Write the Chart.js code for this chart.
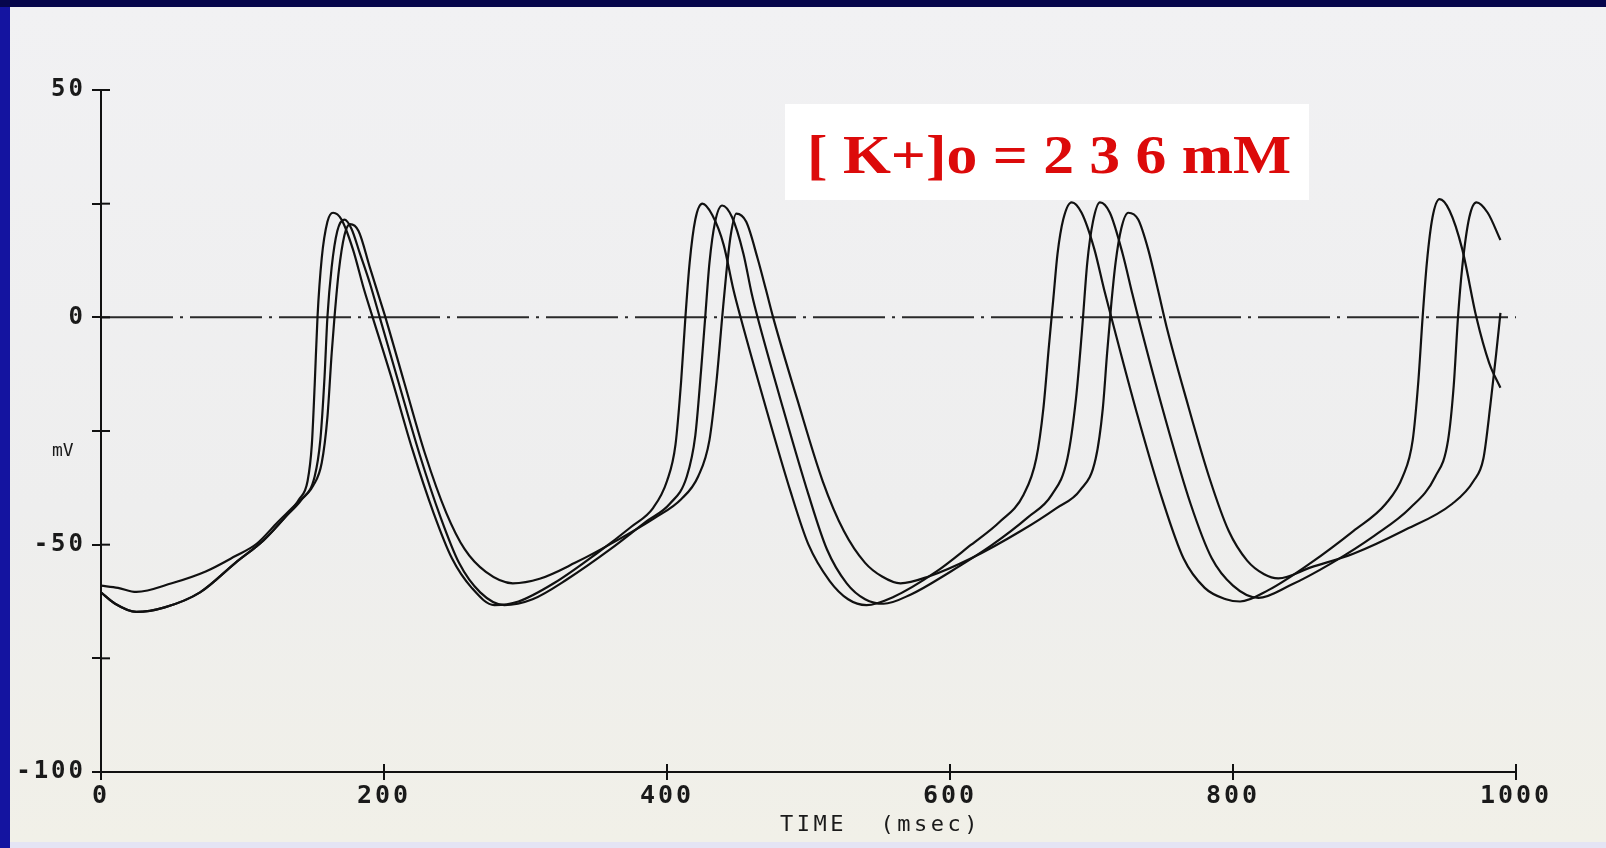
<!DOCTYPE html>
<html>
<head>
<meta charset="utf-8">
<title>[K+]o action potentials</title>
<script src="https://cdn.jsdelivr.net/npm/chart.js@4.4.1/dist/chart.umd.min.js"></script>
<style>
  html, body { margin: 0; padding: 0; }
  body { width: 1606px; height: 848px; background: #1414a0; position: relative; overflow: hidden; }
  .topband { position: absolute; left: 0; top: 0; width: 1606px; height: 7px; background: #06064c; }
  .paper { position: absolute; left: 10px; top: 7px; width: 1596px; height: 835px;
           background: linear-gradient(#f1f1f3, #eeeeee 60%, #f1f0e8); }
  .bottomband { position: absolute; left: 10px; top: 842px; width: 1596px; height: 6px; background: #e4e4f4; }
  #chart { position: absolute; left: 0; top: 0; }
  .label { position: absolute; font-family: "DejaVu Sans Mono", monospace; color: #1a1a1a; white-space: pre; }
  .kbox { position: absolute; left: 785px; top: 104px; width: 524px; height: 96px; background: #fff; }
  .kbox span { position: absolute; left: 22px; top: 23px; font: bold 55px/55px "Liberation Serif", serif;
               color: #dc0a0a; white-space: pre; transform: scaleX(1.12); transform-origin: left top; }
</style>
</head>
<body>
<div class="topband"></div>
<div class="paper"></div>
<div class="bottomband"></div>
<canvas id="chart" width="1606" height="848"></canvas>
<div class="label" style="left:52px; top:439px; font-size:18px;">mV</div>
<div class="label" style="left:780px; top:811px; font-size:22px; letter-spacing:3.5px;">TIME  (msec)</div>
<div class="kbox"><span>[ K+]o = 2 3 6 mM</span></div>

<script>
// time (msec), membrane potential (mV)
const traceA = [[0,-60.5],[10,-63],[25,-64.8],[45,-63.8],[70,-60.5],[95,-54],[115,-49],[130,-44],[140,-40],[146,-36],[149,-28],[151,-15],[153,0],[156,13],[160,21],[164,23],[170,21.5],[178,15],[186,6],[192,0],[205,-13],[220,-29],[235,-43],[248,-53],[262,-59.5],[278,-63.3],[295,-62.5],[320,-58.5],[350,-52],[375,-46],[390,-42],[400,-36],[406,-28],[410,-14],[413,0],[416,12],[420,21.5],[425,25],[432,22.5],[440,16],[447,6],[452,0],[470,-20],[487,-38],[500,-50],[515,-58],[528,-62],[541,-63.3],[560,-61.5],[590,-56],[615,-50],[635,-45],[652,-39],[661,-31],[666,-20],[670,-6],[673,4],[676,14],[680,21.5],[686,25.3],[693,23],[702,15],[709,6],[714,0],[732,-21],[750,-40],[765,-53],[780,-59.5],[795,-62],[805,-62.5],[825,-60],[855,-54],[885,-47],[908,-41],[920,-35],[927,-27],[931,-14],[934,0],[937,12],[941,22],[946,26],[953,23.5],[962,15],[972,0],[981,-10],[989,-15.5]];

const traceB = [[0,-60.5],[10,-63],[25,-64.8],[45,-63.8],[70,-60.5],[95,-54],[115,-49],[130,-44],[142,-40],[151,-35],[155,-27],[158,-13],[160,0],[163,11],[167,19],[172,21.5],[177,19.5],[183,14],[190,7.5],[197,0],[210,-14],[225,-30],[240,-44],[253,-54],[268,-60.5],[285,-63.3],[305,-62],[330,-57.5],[360,-51],[385,-45],[402,-41],[414,-35],[420,-26],[424,-12],[427,0],[430,12],[434,21],[439,24.6],[446,22],[454,14],[460,5],[464,0],[482,-20],[500,-39],[513,-51],[527,-58.5],[540,-62],[553,-63],[572,-61],[600,-56],[630,-50],[655,-44],[672,-39],[683,-31],[689,-18],[693,-4],[694,0],[697,12],[701,21],[706,25.3],[713,23],[722,14],[729,5],[733,0],[751,-21],[770,-41],[785,-53],[800,-59],[818,-61.7],[840,-59],[870,-54],[900,-48],[925,-42],[943,-35],[952,-27],[956,-15],[959,0],[962,11],[967,22],[972,25.3],[980,23],[989,17]];

const traceC = [[0,-59],[12,-59.5],[25,-60.4],[50,-58.5],[74,-55.9],[95,-52.5],[110,-49.8],[125,-45],[138,-41],[150,-37],[156,-32],[160,-22],[163,-8],[165,0],[168,10],[172,18],[176,20.5],[182,19],[190,11],[197,4],[201,0],[214,-14],[229,-30],[244,-43],[257,-51],[272,-56],[291,-58.5],[310,-57.5],[335,-54],[365,-49],[392,-44],[410,-40],[422,-35],[430,-27],[435,-14],[439,0],[442,10],[445,18],[449,22.8],[456,21],[464,13],[470,6],[475,0],[492,-18],[510,-36],[525,-47],[540,-54],[552,-57],[565,-58.5],[585,-57],[615,-53],[650,-47],[675,-42],[692,-38],[703,-31],[708,-20],[711,-8],[714,3],[717,12],[721,19.5],[726,23],[733,21.5],[740,15],[747,6],[753,-2],[767,-18],[783,-35],[797,-47],[810,-53.5],[822,-56.5],[832,-57.4],[855,-55],[885,-52],[920,-47],[955,-41],[970,-36],[977,-31],[982,-19],[986,-8],[989,1]];

const zeroLine = [[0,0],[1000,0]];

const yTicks = [-100, -75, -50, -25, 0, 25, 50];
const yLabelled = [-100, -50, 0, 50];
const xTicks = [0, 200, 400, 600, 800, 1000];

const toXY = arr => arr.map(p => ({ x: p[0], y: p[1] }));
const ink = '#111';

// plotter style: wide digits and tick marks that cross the axis
const plotterStyle = {
  id: 'plotterStyle',
  beforeDraw(chart) {
    chart.ctx.letterSpacing = '3px';
  },
  afterDraw(chart) {
    const { ctx, scales: { x, y } } = chart;
    ctx.letterSpacing = '0px';
    ctx.save();
    ctx.strokeStyle = ink;
    ctx.lineWidth = 2;
    yTicks.forEach(v => {
      const py = y.getPixelForValue(v);
      ctx.beginPath(); ctx.moveTo(x.left, py); ctx.lineTo(x.left + 9, py); ctx.stroke();
    });
    xTicks.forEach(v => {
      const px = x.getPixelForValue(v);
      ctx.beginPath(); ctx.moveTo(px, y.bottom); ctx.lineTo(px, y.bottom - 8); ctx.stroke();
    });
    ctx.restore();
  }
};

const trace = data => ({
  data: toXY(data),
  borderColor: ink,
  borderWidth: 2.2,
  pointRadius: 0,
  fill: false,
  cubicInterpolationMode: 'monotone'
});

new Chart(document.getElementById('chart'), {
  type: 'line',
  data: {
    datasets: [
      trace(traceA),
      trace(traceB),
      trace(traceC),
      {
        data: toXY(zeroLine),
        borderColor: '#2a2a2a',
        borderWidth: 2,
        borderDash: [72, 7, 3, 7],
        pointRadius: 0,
        fill: false
      }
    ]
  },
  options: {
    responsive: false,
    animation: false,
    devicePixelRatio: 1,
    layout: { padding: { left: 0, right: 90, top: 90, bottom: 0 } },
    plugins: { legend: { display: false }, tooltip: { enabled: false } },
    scales: {
      x: {
        type: 'linear',
        min: 0,
        max: 1000,
        afterFit: s => { s.height = 76; },
        afterBuildTicks: s => { s.ticks = xTicks.map(v => ({ value: v })); },
        border: { display: true, color: ink, width: 2 },
        grid: { drawOnChartArea: false, drawTicks: true, tickLength: 8, color: ink, lineWidth: 2 },
        ticks: {
          padding: 1,
          color: '#1a1a1a',
          font: { family: 'DejaVu Sans Mono', size: 25, weight: 'bold' },
          callback: v => String(v)
        }
      },
      y: {
        type: 'linear',
        min: -100,
        max: 50,
        afterFit: s => { s.width = 101; },
        afterBuildTicks: s => { s.ticks = yTicks.map(v => ({ value: v })); },
        border: { display: true, color: ink, width: 2 },
        grid: { drawOnChartArea: false, drawTicks: true, tickLength: 9, color: ink, lineWidth: 2 },
        ticks: {
          padding: 6,
          color: '#1a1a1a',
          font: { family: 'DejaVu Sans Mono', size: 24, weight: 'bold' },
          callback: v => (yLabelled.includes(v) ? String(v) : '')
        }
      }
    }
  },
  plugins: [plotterStyle]
});
</script>
</body>
</html>
